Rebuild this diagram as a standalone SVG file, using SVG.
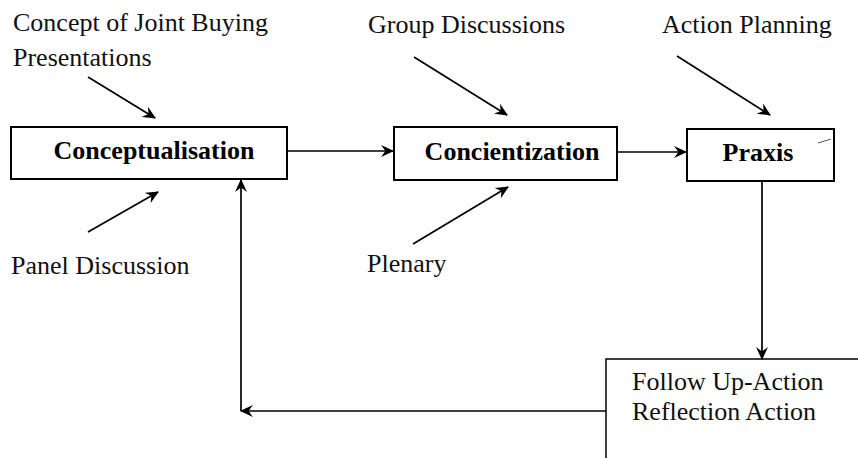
<svg xmlns="http://www.w3.org/2000/svg" width="858" height="458" viewBox="0 0 858 458">
  <defs>
    <marker id="head" viewBox="0 0 12 12" refX="11" refY="6" markerWidth="13" markerHeight="13" markerUnits="userSpaceOnUse" orient="auto">
      <path d="M0,0.5 L12,6 L0,11.5 L4,6 Z" fill="#000"/>
    </marker>
  </defs>
  <style>
    .box { fill: #fff; stroke: #000; stroke-width: 2; }
    .open { fill: none; stroke: #000; stroke-width: 1.5; }
    .lbl { font-family: "Liberation Serif", "Times New Roman", serif; font-size: 26px; fill: #111; }
    .title { font-family: "Liberation Serif", "Times New Roman", serif; font-size: 26px; font-weight: bold; fill: #000; }
    .link { fill: none; stroke: #000; stroke-width: 1.7; marker-end: url(#head); }
  </style>
  <rect width="858" height="458" fill="#fff"/>

  <!-- process stages -->
  <g id="conceptualisation">
    <rect class="box" x="11" y="127" width="276" height="52"/>
    <text class="title" x="154" y="159" text-anchor="middle">Conceptualisation</text>
  </g>
  <g id="concientization">
    <rect class="box" x="394" y="127" width="223" height="53"/>
    <text class="title" x="512" y="160" text-anchor="middle">Concientization</text>
  </g>
  <g id="praxis">
    <rect class="box" x="687" y="129" width="147" height="52"/>
    <text class="title" x="758" y="161" text-anchor="middle">Praxis</text>
    <line x1="818" y1="143" x2="831" y2="139" stroke="#555" stroke-width="1"/>
  </g>
  <g id="follow-up">
    <path class="open" d="M606,458 L606,359 L858,359"/>
    <text class="lbl" x="632" y="390">Follow Up-Action</text>
    <text class="lbl" x="632" y="420">Reflection Action</text>
  </g>

  <!-- inputs -->
  <g id="concept-presentations">
    <text class="lbl" x="13" y="31">Concept of Joint Buying</text>
    <text class="lbl" x="13" y="66">Presentations</text>
  </g>
  <g id="panel-discussion">
    <text class="lbl" x="11" y="274">Panel Discussion</text>
  </g>
  <g id="group-discussions">
    <text class="lbl" x="368" y="33">Group Discussions</text>
  </g>
  <g id="plenary">
    <text class="lbl" x="367" y="272">Plenary</text>
  </g>
  <g id="action-planning">
    <text class="lbl" x="662" y="33">Action Planning</text>
  </g>

  <!-- connectors -->
  <g id="connectors">
    <line class="link" x1="287" y1="151" x2="393" y2="151"/>
    <line class="link" x1="617" y1="152" x2="686" y2="152"/>
    <line class="link" x1="762" y1="181" x2="762" y2="359"/>
    <line class="link" x1="606" y1="411" x2="241" y2="411"/>
    <line class="link" x1="241" y1="411" x2="241" y2="180"/>
    <line class="link" x1="88" y1="77" x2="155" y2="118"/>
    <line class="link" x1="88" y1="232" x2="158" y2="192"/>
    <line class="link" x1="414" y1="57" x2="507" y2="115"/>
    <line class="link" x1="413" y1="244" x2="508" y2="187"/>
    <line class="link" x1="677" y1="56" x2="770" y2="115"/>
  </g>
</svg>
